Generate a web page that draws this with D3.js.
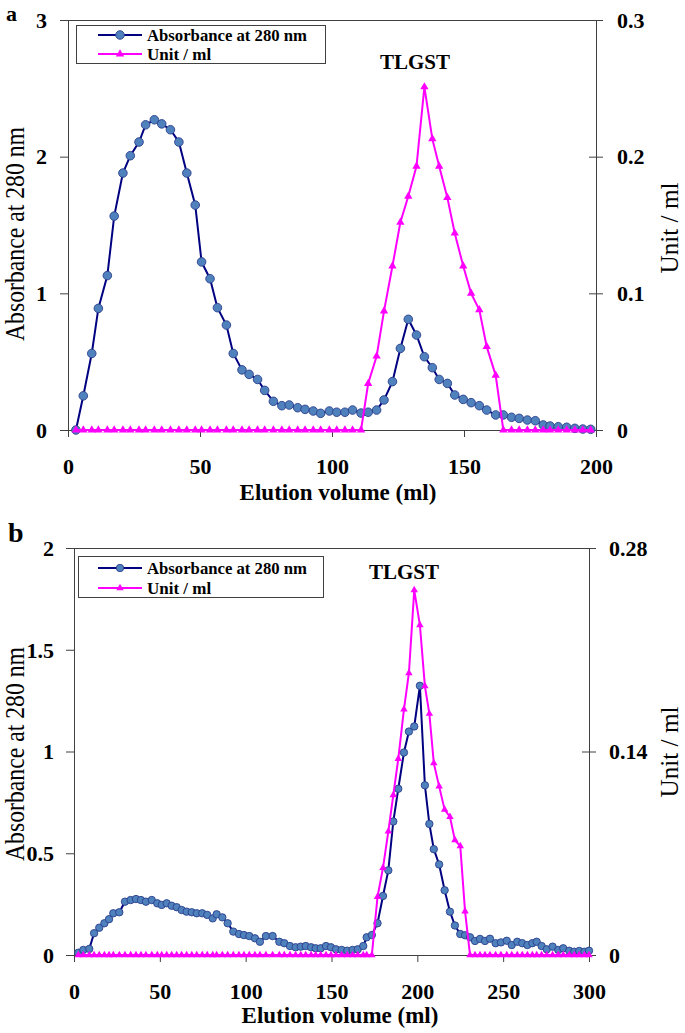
<!DOCTYPE html>
<html><head><meta charset="utf-8">
<script src="https://cdn.jsdelivr.net/npm/d3@7"></script>
<style>body{margin:0;background:#fff} svg{display:block}</style>
</head><body>
<svg id="chart" width="685" height="1033"></svg>
<script>
// ---------- Panel a data ----------
const volA = [3, 5.8, 9, 11.5, 14.9, 17.5, 20.8, 23.6, 26.9, 29.4,
  32.7, 35.5, 38.8, 42, 45, 48.2, 50.6, 53.8, 56.6, 60,
  62.6, 65.9, 68.6, 71.8, 74.5, 77.8, 81, 83.8, 87, 89.8,
  92.9, 95.7, 99, 101.8, 104.9, 107.8, 111, 113.7, 116.9, 119.7,
  122.9, 125.9, 128.9, 132, 135, 138, 140.6, 143.7, 146.5, 149.7,
  152.7, 155.8, 158.6, 162, 164.9, 168, 170.9, 174, 177, 180,
  182.6, 185.7, 188.9, 192, 195, 198];
const absA = [0, 0.25, 0.56, 0.89, 1.13, 1.565, 1.88, 2.007, 2.107, 2.233,
  2.27, 2.24, 2.197, 2.107, 1.88, 1.646, 1.23, 1.107, 0.895, 0.768,
  0.56, 0.44, 0.407, 0.37, 0.29, 0.21, 0.178, 0.183, 0.163, 0.151,
  0.139, 0.122, 0.139, 0.13, 0.13, 0.146, 0.124, 0.13, 0.146, 0.22,
  0.354, 0.597, 0.81, 0.695, 0.536, 0.456, 0.37, 0.341, 0.256, 0.224,
  0.2, 0.178, 0.146, 0.11, 0.11, 0.093, 0.085, 0.073, 0.068, 0.037,
  0.029, 0.024, 0.02, 0.012, 0.007, 0.005];
const unitA = [0, 0, 0, 0, 0, 0, 0, 0, 0, 0,
  0, 0, 0, 0, 0, 0, 0, 0, 0, 0,
  0, 0, 0, 0, 0, 0, 0, 0, 0, 0,
  0, 0, 0, 0, 0, 0, 0, 0.034, 0.054, 0.087,
  0.12, 0.152, 0.171, 0.193, 0.251, 0.213, 0.193, 0.17, 0.144, 0.12,
  0.1, 0.088, 0.061, 0.04, 0, 0, 0, 0, 0, 0,
  0, 0, 0, 0, 0, 0];
const xTicksA = [0, 50, 100, 150, 200];
const yLTicksA = [0, 1, 2, 3];
const yRTicksA = [0, 0.1, 0.2, 0.3];

// ---------- Panel b data ----------
const volB = [2.5, 5.4, 8.9, 11.7, 14.7, 17.7, 20.4, 22.9, 26.4, 29.7,
  33, 36.1, 39, 41.9, 45.3, 48.5, 51.1, 54, 56.9, 59.8,
  62.7, 65.6, 68.6, 71.5, 74.7, 77.6, 80.8, 83.1, 86.4, 89.5,
  92.8, 96.1, 99, 102.1, 105.4, 108.3, 111.8, 115.7, 119.6, 122.5,
  125.8, 129.1, 132.1, 135, 138.1, 140.8, 143.7, 146.8, 149.7, 152.6,
  155.9, 159.2, 162.3, 165.3, 168.5, 170.5, 173.5, 176.8, 180, 183.1,
  186, 188.9, 192.2, 195.1, 198.2, 201.5, 204.4, 207, 209.6, 212.7,
  215.9, 219, 221.9, 225, 227.8, 230.7, 233.6, 236.5, 239.4, 242.3,
  245.6, 248.7, 252.1, 255, 258.2, 261.1, 264.1, 267, 269.5, 272.4,
  275.4, 278.8, 282.1, 285, 288.5, 291.4, 294.3, 297.3, 300];
const absB = [0.011, 0.025, 0.03, 0.107, 0.134, 0.156, 0.176, 0.205, 0.21, 0.262,
  0.27, 0.275, 0.27, 0.262, 0.27, 0.254, 0.246, 0.254, 0.242, 0.235,
  0.221, 0.213, 0.21, 0.205, 0.205, 0.197, 0.18, 0.2, 0.185, 0.156,
  0.115, 0.103, 0.098, 0.093, 0.082, 0.065, 0.093, 0.093, 0.065, 0.058,
  0.044, 0.038, 0.041, 0.044, 0.038, 0.033, 0.033, 0.044, 0.038, 0.028,
  0.025, 0.021, 0.025, 0.028, 0.044, 0.087, 0.098, 0.156, 0.29, 0.416,
  0.656, 0.817, 0.995, 1.098, 1.123, 1.323, 0.834, 0.644, 0.52, 0.445,
  0.318, 0.213, 0.145, 0.103, 0.097, 0.087, 0.069, 0.079, 0.069, 0.08,
  0.058, 0.062, 0.07, 0.049, 0.065, 0.058, 0.049, 0.058, 0.065, 0.044,
  0.028, 0.041, 0.025, 0.033, 0.021, 0.016, 0.02, 0.016, 0.021];
const unitB = [0, 0, 0, 0, 0, 0, 0, 0, 0, 0,
  0, 0, 0, 0, 0, 0, 0, 0, 0, 0,
  0, 0, 0, 0, 0, 0, 0, 0, 0, 0,
  0, 0, 0, 0, 0, 0, 0, 0, 0, 0,
  0, 0, 0, 0, 0, 0, 0, 0, 0, 0,
  0, 0, 0, 0, 0, 0, 0, 0.04, 0.06, 0.085,
  0.11, 0.135, 0.169, 0.194, 0.251, 0.227, 0.185, 0.166, 0.132, 0.116,
  0.1, 0.095, 0.079, 0.075, 0.03, 0, 0, 0, 0, 0,
  0, 0, 0, 0, 0, 0, 0, 0, 0, 0,
  0, 0, 0, 0, 0, 0, 0, 0, 0];
const xTicksB = [0, 50, 100, 150, 200, 250, 300];
const yLTicksB = [0, 0.5, 1, 1.5, 2];
const yRTicksB = [0, 0.14, 0.28];

const seriesNames = ["Absorbance at 280 nm", "Unit / ml"];
const yTitleL = "Absorbance at 280 nm";
const yTitleR = "Unit / ml";
const xTitle = "Elution volume (ml)";
const peakLabel = "TLGST";

// ---------- drawing ----------
const FONT = '"Liberation Serif","Times New Roman",serif';
const AX = '#404040';
const NAVY = '#000080';
const DOT = '#4F81BD';
const MAG = '#FF00FF';
const svg = d3.select('#chart');
svg.append('rect').attr('width', 685).attr('height', 1033).attr('fill', '#fff');

function styleAxis(sel, size) {
  sel.attr('font-family', FONT).attr('font-size', size).attr('font-weight', 'bold');
  sel.selectAll('line,path').attr('stroke', AX);
  sel.selectAll('text').attr('fill', '#000');
}

function panel(c) {
  const g = svg.append('g');
  const x = d3.scaleLinear().domain(c.xDomain).range([c.left, c.right]);
  const yL = d3.scaleLinear().domain(c.yLDomain).range([c.bottom, c.top]);
  const yR = d3.scaleLinear().domain(c.yRDomain).range([c.bottom, c.top]);

  // top frame
  g.append('line').attr('x1', c.left).attr('x2', c.right)
    .attr('y1', c.top + 0.5).attr('y2', c.top + 0.5).attr('stroke', AX);

  // left axis
  const gl = g.append('g').attr('transform', `translate(${c.left},0)`)
    .call(d3.axisLeft(yL).tickValues(c.yLTicks).tickFormat(d => String(d))
      .tickSizeInner(8).tickSizeOuter(0).tickPadding(c.lPad));
  styleAxis(gl, 22);
  gl.selectAll('text').attr('dy', '0.33em');

  // right axis (ticks cross)
  const gr = g.append('g').attr('transform', `translate(${c.right},0)`)
    .call(d3.axisRight(yR).tickValues(c.yRTicks).tickFormat(d => String(d))
      .tickSizeInner(7).tickSizeOuter(0).tickPadding(c.rPad));
  styleAxis(gr, 22);
  gr.selectAll('.tick line').attr('x1', -7);
  gr.selectAll('text').attr('dy', '0.33em');

  // bottom axis
  const gb = g.append('g').attr('transform', `translate(0,${c.bottom})`)
    .call(d3.axisBottom(x).tickValues(c.xTicks).tickFormat(d => String(d))
      .tickSizeInner(7).tickSizeOuter(0));
  styleAxis(gb, 22);
  gb.selectAll('text').attr('y', 44).attr('dy', 0);

  // absorbance series
  const dA = c.vol.map((v, i) => ({v, a: c.abs[i], u: c.unit[i]}));
  g.append('path').datum(dA)
    .attr('d', d3.line().x(d => x(d.v)).y(d => yL(d.a)))
    .attr('fill', 'none').attr('stroke', NAVY).attr('stroke-width', 2);
  g.append('g').selectAll('circle').data(dA).join('circle')
    .attr('cx', d => x(d.v)).attr('cy', d => yL(d.a)).attr('r', c.r)
    .attr('fill', DOT).attr('stroke', '#2B3F8C').attr('stroke-width', 0.9);

  // unit series
  g.append('path').datum(dA)
    .attr('d', d3.line().x(d => x(d.v)).y(d => yR(d.u)))
    .attr('fill', 'none').attr('stroke', MAG).attr('stroke-width', 2);
  const tri = d3.symbol(d3.symbolTriangle).size(c.tri);
  g.append('g').selectAll('path').data(dA).join('path')
    .attr('d', tri).attr('transform', d => `translate(${x(d.v)},${yR(d.u)})`)
    .attr('fill', MAG);

  // legend
  const lg = g.append('g');
  lg.append('rect').attr('x', c.leg.x + 0.5).attr('y', c.leg.y + 0.5)
    .attr('width', c.leg.w).attr('height', c.leg.h)
    .attr('fill', '#fff').attr('stroke', AX).attr('stroke-width', 1);
  const ly1 = c.leg.y1, ly2 = c.leg.y2;
  lg.append('line').attr('x1', 98).attr('x2', 142).attr('y1', ly1).attr('y2', ly1)
    .attr('stroke', NAVY).attr('stroke-width', 2);
  lg.append('circle').attr('cx', 120).attr('cy', ly1).attr('r', c.r)
    .attr('fill', DOT).attr('stroke', '#2B3F8C').attr('stroke-width', 0.9);
  lg.append('line').attr('x1', 98).attr('x2', 142).attr('y1', ly2).attr('y2', ly2)
    .attr('stroke', MAG).attr('stroke-width', 2);
  lg.append('path').attr('d', tri).attr('transform', `translate(120,${ly2})`).attr('fill', MAG);
  lg.append('text').attr('x', 147).attr('y', ly1).attr('dy', '0.33em')
    .attr('font-family', FONT).attr('font-weight', 'bold').attr('font-size', 17)
    .attr('textLength', 160).attr('lengthAdjust', 'spacingAndGlyphs')
    .text(seriesNames[0]);
  lg.append('text').attr('x', 147).attr('y', ly2).attr('dy', '0.33em')
    .attr('font-family', FONT).attr('font-weight', 'bold').attr('font-size', 17)
    .text(seriesNames[1]);

  // peak label
  g.append('text').attr('x', c.peak[0]).attr('y', c.peak[1]).attr('text-anchor', 'middle')
    .attr('font-family', FONT).attr('font-weight', 'bold').attr('font-size', 21)
    .text(peakLabel);

  // axis titles
  g.append('text').attr('transform', `translate(24,${c.ltY}) rotate(-90)`)
    .attr('text-anchor', 'middle').attr('font-family', FONT).attr('font-size', 28)
    .attr('textLength', 214).attr('lengthAdjust', 'spacingAndGlyphs')
    .text(yTitleL);
  g.append('text').attr('transform', `translate(678,${c.rtY}) rotate(-90)`)
    .attr('text-anchor', 'middle').attr('font-family', FONT).attr('font-size', 26)
    .attr('textLength', 91).attr('lengthAdjust', 'spacingAndGlyphs')
    .text(yTitleR);
  g.append('text').attr('x', c.xtX).attr('y', c.xtY).attr('text-anchor', 'middle')
    .attr('font-family', FONT).attr('font-weight', 'bold').attr('font-size', 23)
    .text(xTitle);

  // panel letter
  g.append('text').attr('x', c.letter.x).attr('y', c.letter.y)
    .attr('font-family', FONT).attr('font-weight', 'bold').attr('font-size', c.letter.s)
    .text(c.letter.t);
}

panel({
  xDomain: [0, 200], yLDomain: [0, 3], yRDomain: [0, 0.3],
  left: 68, right: 596, top: 20, bottom: 430,
  xTicks: xTicksA, yLTicks: yLTicksA, yRTicks: yRTicksA,
  lPad: 13, rPad: 14,
  vol: volA, abs: absA, unit: unitA, r: 4.3, tri: 30,
  leg: {x: 76, y: 25, w: 249, h: 38, y1: 35, y2: 54},
  peak: [415, 68.5], ltY: 234, rtY: 228, xtX: 338, xtY: 500,
  letter: {x: 6, y: 21, s: 22, t: 'a'}
});
panel({
  xDomain: [0, 300], yLDomain: [0, 2], yRDomain: [0, 0.28],
  left: 74, right: 589, top: 548, bottom: 955,
  xTicks: xTicksB, yLTicks: yLTicksB, yRTicks: yRTicksB,
  lPad: 12, rPad: 13,
  vol: volB, abs: absB, unit: unitB, r: 3.7, tri: 24,
  leg: {x: 78, y: 556, w: 245, h: 41, y1: 568, y2: 588},
  peak: [404, 579], ltY: 754, rtY: 752, xtX: 340, xtY: 1023,
  letter: {x: 8, y: 542, s: 28, t: 'b'}
});
</script>
</body></html>
